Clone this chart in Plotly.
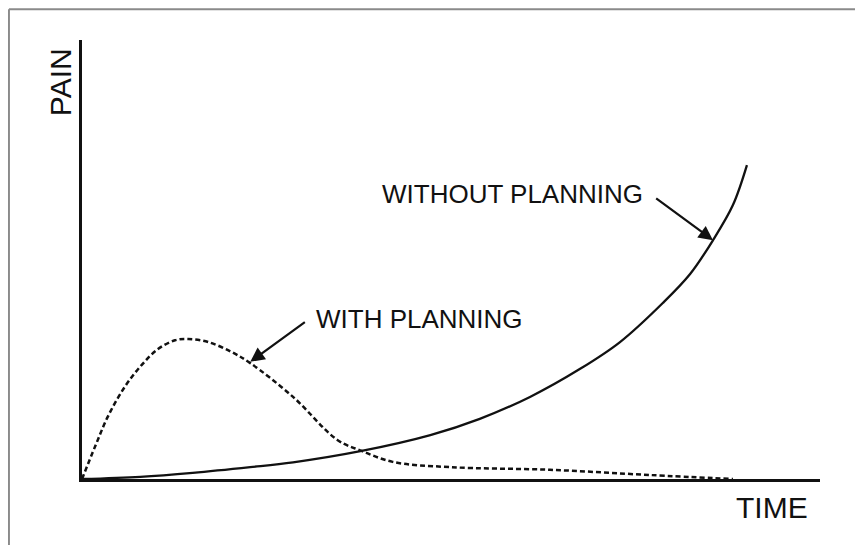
import plotly.graph_objects as go

# curve values (time 0-100, pain 0-100)
time_without = [0, 7.9, 15.0, 22.8, 28.6, 37.9, 47.2, 53.9, 60.7, 67.5, 72.9, 78.7,
                82.4, 85.5, 88.2, 90.1]
pain_without = [0, 0.5, 1.4, 2.7, 3.8, 6.4, 10.0, 13.7, 18.7, 25.1, 31.2, 40.1,
                46.7, 54.4, 62.4, 71.5]

time_with = [0, 1.8, 3.5, 5.8, 8.1, 10.3, 12.6, 14.4, 17.1, 20.3, 22.8, 28.6, 34.6, 37.9,
             42.1, 49.9, 63.4, 77.0, 88.2]
pain_with = [0, 7.5, 14.2, 21.0, 26.0, 29.6, 31.6, 31.9, 31.2, 28.9, 26.4, 18.7, 8.9, 6.4,
             3.9, 2.7, 2.1, 0.9, 0.0]

FONT = "Liberation Sans, Arial, Helvetica, sans-serif"
INK = "#111111"

fig = go.Figure()

fig.add_trace(go.Scatter(x=time_with, y=pain_with, mode="lines",
                         line=dict(color=INK, width=2.5, dash="5px,3px",
                                   shape="spline", smoothing=1.0),
                         hoverinfo="skip"))
fig.add_trace(go.Scatter(x=time_without, y=pain_without, mode="lines",
                         line=dict(color=INK, width=2.3, shape="spline", smoothing=1.0),
                         hoverinfo="skip"))

fig.update_xaxes(range=[0, 100], showline=True, linecolor=INK, linewidth=2.8,
                 showgrid=False, zeroline=False, showticklabels=False, ticks="")
fig.update_yaxes(range=[0, 100], showline=True, linecolor=INK, linewidth=2.8,
                 showgrid=False, zeroline=False, showticklabels=False, ticks="")

# arrows
fig.add_annotation(x=22.8, y=26.7, ax=30.4, ay=36.0, xref="x", yref="y",
                   axref="x", ayref="y", text="", showarrow=True,
                   arrowhead=2, arrowsize=1.3, arrowwidth=2.2, arrowcolor=INK)
fig.add_annotation(x=85.5, y=54.4, ax=77.6, ay=64.2, xref="x", yref="y",
                   axref="x", ayref="y", text="", showarrow=True,
                   arrowhead=2, arrowsize=1.3, arrowwidth=2.2, arrowcolor=INK)

# labels
fig.add_annotation(x=31.5, y=36.4, xref="x", yref="y", text="WITH PLANNING",
                   showarrow=False, xanchor="left", yanchor="middle",
                   font=dict(family=FONT, size=26, color=INK))
fig.add_annotation(x=40.4, y=64.9, xref="x", yref="y", text="WITHOUT PLANNING",
                   showarrow=False, xanchor="left", yanchor="middle",
                   font=dict(family=FONT, size=26, color=INK))
fig.add_annotation(x=-0.0298, y=0.904, xref="paper", yref="paper", text="PAIN",
                   showarrow=False, textangle=-90, xanchor="center", yanchor="middle",
                   font=dict(family=FONT, size=30, color=INK))
fig.add_annotation(x=0.935, y=-0.066, xref="paper", yref="paper", text="TIME",
                   showarrow=False, xanchor="center", yanchor="middle",
                   font=dict(family=FONT, size=30, color=INK))

# thin frame on the left and top edges of the picture
fig.add_shape(type="line", xref="paper", yref="paper", x0=-0.099, x1=-0.099,
              y0=1.07, y1=-0.2, line=dict(color="#8a8a8a", width=2))
fig.add_shape(type="line", xref="paper", yref="paper", x0=-0.099, x1=1.1,
              y0=1.07, y1=1.07, line=dict(color="#8a8a8a", width=2))

# the page body adds an 8px offset, so margins are shifted to compensate
fig.update_layout(autosize=False, width=863, height=545,
                  margin=dict(l=74, r=51, t=32, b=74, pad=0),
                  plot_bgcolor="white", paper_bgcolor="white",
                  showlegend=False)

fig.write_html("out.html")
